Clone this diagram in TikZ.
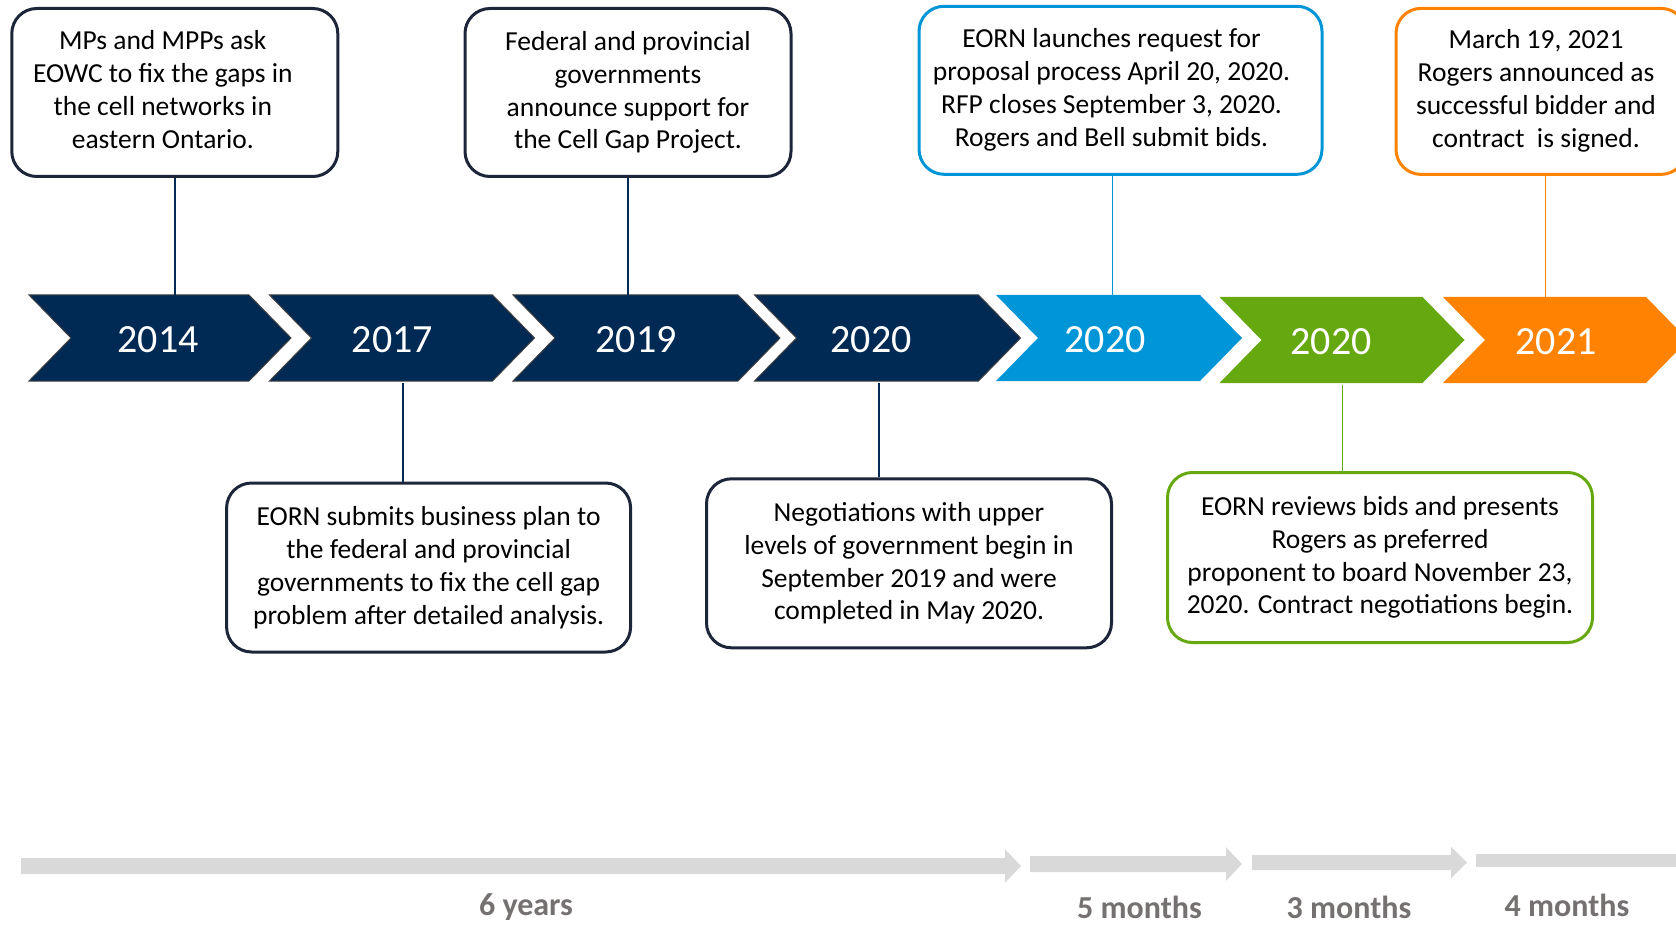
\documentclass[tikz,border=0pt]{standalone}
\usepackage{fontspec}
\setmainfont{Carlito}
\usepackage{xcolor}
\usepackage{tikz}
\usetikzlibrary{positioning}
\definecolor{navy}{RGB}{0,41,84}
\definecolor{navyline}{RGB}{28,38,56}
\definecolor{eblue}{RGB}{0,149,214}
\definecolor{egreen}{RGB}{102,168,16}
\definecolor{eorange}{RGB}{255,130,0}
\definecolor{barg}{RGB}{217,217,217}
\definecolor{durg}{RGB}{118,113,113}
\tikzset{
    evbox/.style = {rectangle, rounded corners=25pt, line width=3pt, draw=navyline, fill=white, align=center, inner sep=0pt, font=\fontsize{27.5}{32.8}\selectfont},
    evboxb/.style = {evbox, draw=eblue},
    evboxg/.style = {evbox, draw=egreen},
    evboxo/.style = {evbox, draw=eorange},
    chevd/.style = {fill=navy, draw=black!75, line width=1pt},
    chevb/.style = {fill=eblue},
    chevg/.style = {fill=egreen},
    chevo/.style = {fill=eorange},
    yearnode/.style = {rectangle, inner sep=0pt, minimum height=86pt, text=white, font=\fontsize{40}{48}\selectfont},
    durlbl/.style = {inner sep=0pt, text=durg, font=\bfseries\fontsize{32}{38}\selectfont},
}

\begin{document}
\begin{tikzpicture}[
	x=1pt, y=-1pt,
	thick
]
\tikzset{
    edgen/.style = {-, line width=1.8pt, navy},
    edgeb/.style = {-, line width=1.8pt, eblue},
    edgeg/.style = {-, line width=1.8pt, egreen},
    edgeo/.style = {-, line width=1.8pt, eorange}
}
\useasboundingbox (0,0) rectangle (1676,925);
%
\foreach \l/\w/\tx/\t/\st/\yr/\nm in {29/262/158/295/chevd/2014/c1, 269.5/265/392.5/295/chevd/2017/c2, 513/267/636/295/chevd/2019/c3, 754.5/266/871/295/chevd/2020/c4, 996/246/1105/295/chevb/2020/c5, 1219.5/245/1331/297/chevg/2020/c6, 1443/245/1556/297/chevo/2021/c7} {
  \path[\st] (\l,\t) -- ++(\w-42,0) -- ++(42,43) -- ++(-42,43) -- ++(-\w+42,0) -- ++(42,-43) -- cycle;
  \node[yearnode] at (\tx,\t+43+1.5) (\nm) {\yr};
}
%
\node[evbox, minimum width=326pt, minimum height=168pt] at (174.8,92.5) (ba) {\begin{tabular}{@{}c@{}}MPs and MPPs ask\\EOWC to fix the gaps in\\the cell networks in\\eastern Ontario.\end{tabular}\hspace*{24pt}};
\node[evbox, minimum width=326pt, minimum height=168pt] at (628,92.5) (bb) {Federal and provincial\\governments\\announce support for\\the Cell Gap Project.};
\node[evboxb, minimum width=403pt, minimum height=168pt] at (1120.5,90.3) (bc) {\begin{tabular}{@{}c@{}}EORN launches request for\\proposal process April 20, 2020.\\RFP closes September 3, 2020.\\Rogers and Bell submit bids.\end{tabular}\hspace*{18pt}};
\node[evboxo, minimum width=290pt, minimum height=166pt] at (1541,91.4) (bd) {\begin{tabular}{@{}c@{}}March 19, 2021\\ Rogers announced as\\successful bidder and\\contract\ \ is signed.\end{tabular}\hspace*{10pt}};
%
\node[evbox, minimum width=404pt, minimum height=169pt] at (428.6,567.5) (be) {EORN submits business plan to\\the federal and provincial\\governments to fix the cell gap\\problem after detailed analysis.};
\node[evbox, minimum width=405pt, minimum height=169pt] at (909,563.3) (bf) {Negotiations with upper\\levels of government begin in\\September 2019 and were\\completed in May 2020.};
\node[evboxg, minimum width=425pt, minimum height=170pt] at (1380,557.5) (bg) {EORN reviews bids and presents\\Rogers as preferred\\proponent to board November 23,\\2020. Contract negotiations begin.};
%
\draw[edgen] (ba.south) -- (ba.south |- c1.north);
\draw[edgen] (bb.south) -- (bb.south |- c3.north);
\draw[edgeb] ([xshift=-8pt]bc.south) -- ([xshift=-8pt]bc.south |- c5.north);
\draw[edgeo] ([xshift=4.5pt]bd.south) -- ([xshift=4.5pt]bd.south |- c7.north);
\draw[edgen] ([xshift=-26pt]be.north) -- ([xshift=-26pt]be.north |- c2.south);
\draw[edgen] ([xshift=-30pt]bf.north) -- ([xshift=-30pt]bf.north |- c4.south);
\draw[edgeg] ([xshift=-37.5pt]bg.north) -- ([xshift=-37.5pt]bg.north |- c6.south);
%
\foreach \a/\b/\yc/\t in {21/1005/866/8, 1030/1226/864/8, 1252/1451/862.5/7.5} {
  \fill[barg] (\a,\yc-\t) -- (\b,\yc-\t) -- (\b,\yc-2.1*\t) -- (\b+16,\yc) -- (\b,\yc+2.1*\t) -- (\b,\yc+\t) -- (\a,\yc+\t) -- cycle;
}
\fill[barg] (1476,853.5) rectangle (1690,866.5);
%
\node[durlbl] at (526,907) (d1) {6 years};
\node[durlbl] at (1139.5,907.5) (d2) {5 months};
\node[durlbl] at (1349,907.5) (d3) {3 months};
\node[durlbl] at (1567,905.5) (d4) {4 months};
\end{tikzpicture}
\end{document}
